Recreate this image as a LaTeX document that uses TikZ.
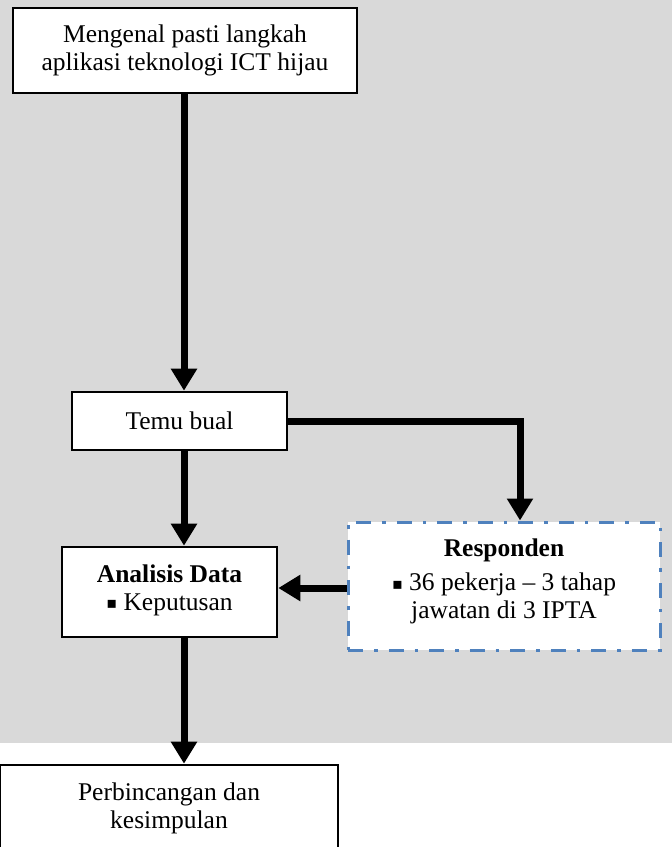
\documentclass[tikz,border=0pt]{standalone}
\usepackage{fontspec}
\setmainfont{Liberation Serif}
\newfontfamily\symfont{DejaVu Sans}
\usetikzlibrary{arrows.meta}
\definecolor{bggray}{RGB}{217,217,217}
\definecolor{dashblue}{RGB}{79,129,189}
\newcommand{\sqbullet}{\raisebox{1.5pt}{\symfont\fontsize{16}{16}\selectfont ▪}}
\begin{document}
\begin{tikzpicture}[x=1pt,y=-1pt,
  txt/.style={align=center,inner sep=0pt,font=\fontsize{25.5}{28}\selectfont},
  box/.style={txt,draw=black,line width=2.6pt,fill=white},
  dbox/.style={txt,draw=dashblue,line width=3pt,fill=white,
    dash pattern=on 15pt off 11pt on 3.5pt off 11pt},
  arr/.style={line width=7pt,line join=miter,-{Triangle[length=22pt,width=25pt]}}]
\useasboundingbox (0,0) rectangle (672,847);
\fill[bggray] (0,0) rectangle (672,743);
% nodes
\node[box,minimum width=344pt,minimum height=85pt] (top) at (185,50.5)
  {Mengenal pasti langkah\\aplikasi teknologi ICT hijau};
\node[box,minimum width=215pt,minimum height=58pt] (temu) at (179.5,421) {Temu bual};
\node[box,minimum width=215pt,minimum height=90pt] (ana) at (169.5,592) {};
\node[txt] (anatext) at (169.5,590)
  {\textbf{Analisis Data}\\\sqbullet~Keputusan};
\node[dbox,minimum width=312pt,minimum height=128pt] (resp) at (504,586) {};
\node[txt] (resptext) at (504,581.5)
  {\textbf{Responden}\\[6pt]\sqbullet~36 pekerja -- 3 tahap\\jawatan di 3 IPTA};
\node[box,minimum width=338pt,minimum height=88pt] (perb) at (169,809) {};
\node[txt] (perbtext) at (169,808.5) {Perbincangan dan\\kesimpulan};
% connectors
\coordinate (vx) at (184,0);
\coordinate (turn) at (520,0);
\draw[arr] (top.south -| vx) -- (temu.north -| vx);
\draw[arr] (temu.south -| vx) -- (ana.north -| vx);
\draw[arr] (ana.south -| vx) -- (perb.north -| vx);
\draw[arr] (temu.east) -| (resp.north -| turn);
\draw[arr] (resp.west |- 0,588) -- (ana.east |- 0,588);
\end{tikzpicture}
\end{document}
